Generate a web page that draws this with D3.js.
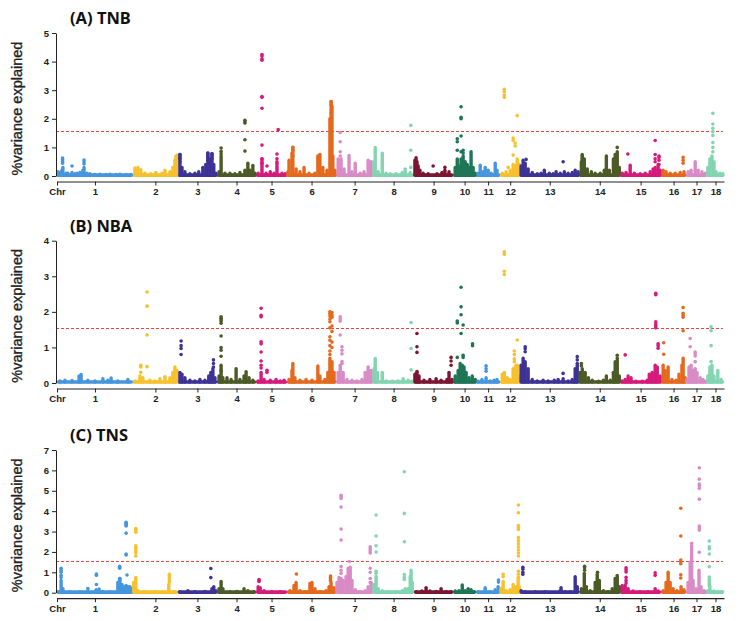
<!DOCTYPE html>
<html><head><meta charset="utf-8">
<script src="https://cdn.jsdelivr.net/npm/d3@7"></script>
<style>body{margin:0;background:#fff}svg{display:block}</style>
</head><body>
<script>
// ---------- DATA ----------
const chrNames = ['1','2','3','4','5','6','7','8','9','10','11','12','13','14','15','16','17','18'];
const chrLen = [258,153,133,133,105,167,126,139,133,78,82,68,201,139,139,85,71,58]; // Mb
const chrColors = ['#4596dc','#f6c12c','#3d3397','#4b5a26','#d61a7b','#e4691e','#d98bc5','#83d5b1','#7b1632','#1e7656'];
const threshold = 1.56;
const baseVal = 0.03;
const panelTitles = ['(A) TNB','(B) NBA','(C) TNS'];
const panelYMax = [5,4,7];

// columns of dense dots: [chr, position(Mb), top value]
const colsA = [
[1,3,.15],[1,10,.12],[1,17,.2],[1,20,.3],[1,31,.1],[1,37,.1],[1,51,.12],[1,61,.08],[1,68,.1],[1,78,.12],[1,88,.2],[1,92,.3],[1,102,.1],[1,112,.08],[1,129,.05],[1,146,.06],[1,167,.05],[1,180,.06],[1,201,.05],[1,214,.06],[1,235,.05],[1,252,.05],
[2,7,.28],[2,17,.3],[2,27,.22],[2,41,.1],[2,61,.08],[2,78,.12],[2,99,.1],[2,109,.2],[2,126,.15],[2,136,.3],[2,143,.55],[2,150,.65],
[3,7,.75],[3,14,.3],[3,24,.15],[3,41,.08],[3,58,.1],[3,71,.15],[3,85,.3],[3,95,.4],[3,102,.8],[3,109,.6],[3,116,.78],[3,122,.4],[3,129,.1],
[4,7,.15],[4,14,.7],[4,27,.1],[4,44,.1],[4,61,.08],[4,78,.12],[4,95,.2],[4,105,.45],[4,112,.2],[4,122,.37],[4,129,.1],
[5,7,.1],[5,20,.6],[5,34,.1],[5,48,.15],[5,61,.1],[5,71,.45],[5,88,.1],[5,99,.08],
[6,3,.15],[6,7,.55],[6,17,.8],[6,20,1.0],[6,31,.25],[6,44,.15],[6,58,.3],[6,75,.1],[6,95,.1],[6,105,.7],[6,112,.75],[6,122,.3],[6,136,.2],[6,146,2.0],[6,150,2.6],[6,153,2.45],[6,156,.7],[6,163,.2],
[7,7,.6],[7,17,.6],[7,27,.25],[7,44,.72],[7,54,.15],[7,65,.45],[7,82,.1],[7,95,.15],[7,109,.55],[7,119,.5],
[8,3,.5],[8,7,1.0],[8,17,.15],[8,31,.8],[8,44,.1],[8,58,.08],[8,78,.08],[8,99,.12],[8,109,.25],[8,126,.12],
[9,3,.55],[9,7,.64],[9,10,.5],[9,14,.35],[9,20,.2],[9,31,.1],[9,48,.08],[9,78,.08],[9,95,.12],[9,105,.2],[9,119,.15],
[10,7,.3],[10,14,.6],[10,20,.35],[10,27,.6],[10,34,.7],[10,41,.5],[10,48,.4],[10,54,.3],[10,61,.85],[10,68,.3],[10,75,.1],
[11,7,.1],[11,14,.38],[11,24,.15],[11,31,.3],[11,41,.2],[11,51,.1],[11,65,.45],[11,71,.2],
[12,7,.1],[12,20,.15],[12,34,.2],[12,44,.4],[12,51,.35],[12,58,.6],[12,65,.4],
[13,3,.35],[13,10,.55],[13,17,.45],[13,27,.25],[13,41,.12],[13,58,.08],[13,71,.1],[13,82,.2],[13,99,.1],[13,112,.08],[13,122,.15],[13,136,.1],[13,150,.15],[13,163,.1],[13,177,.12],[13,187,.2],[13,197,.15],
[14,7,.5],[14,10,.75],[14,17,.6],[14,27,.25],[14,41,.15],[14,54,.1],[14,71,.1],[14,85,.2],[14,92,.7],[14,102,.2],[14,116,.6],[14,122,.75],[14,129,.85],[14,136,.3],
[15,7,.1],[15,20,.12],[15,34,.38],[15,48,.1],[15,68,.08],[15,85,.1],[15,102,.15],[15,112,.25],[15,119,.3],[15,129,.4],[15,136,.2],
[16,7,.2],[16,17,.15],[16,31,.1],[16,48,.1],[16,65,.12],[16,78,.15],
[17,7,.15],[17,17,.2],[17,31,.5],[17,41,.2],[17,54,.15],[17,65,.1],
[18,3,.3],[18,10,.6],[18,17,.7],[18,24,.5],[18,31,.15],[18,44,.1],[18,54,.08]
];
// discrete dots: [chr, position(Mb), [values]]
const ptsA = [
[1,19,[.45,.52,.58,.63]],[1,51,[.35]],[1,92,[.42,.5,.56]],
[2,146,[.6,.68]],[2,150,[.5,.72]],
[3,7,[.5,.6,.68,.75]],[3,102,[.55,.65,.72,.8]],[3,116,[.6,.7,.78]],
[4,14,[.78,.86,.98]],[4,95,[.87,1.27,1.85,1.9,1.95]],
[5,20,[.45,.6,1.08,2.37,2.75,2.78,4.05,4.1,4.2,4.25]],[5,37,[.35]],[5,71,[.5,.6,.77]],[5,75,[1.62]],
[6,20,[.7,.9,1.0]],[6,150,[1.45,1.7,1.95,2.2,2.5,2.6]],
[7,14,[.7,.85,1.2,1.52]],
[8,128,[.3,.9,1.77]],
[9,65,[.35]],[9,105,[.3]],
[10,14,[.9,1.2,1.3]],[10,27,[.85,1.4,2.0,2.05,2.42]],[10,34,[.8,.9]],
[12,14,[2.75,2.83,2.95,3.03]],[12,27,[.3]],[12,44,[.73,1.25,1.33]],[12,51,[1.05,1.15]],[12,58,[2.11]],
[13,20,[.58]],[13,146,[.5]],
[14,10,[.6,.7]],[14,129,[1.0]],
[15,26,[.77]],[15,119,[.5,.6,.75,1.24]],[15,132,[.4,.55,.65,.7]],
[16,75,[.45,.55,.65]],
[18,20,[.85,1.0,1.17,1.42,1.55,1.67,1.82,2.19]]
];

const colsB = [
[1,10,.06],[1,27,.08],[1,51,.07],[1,75,.2],[1,82,.24],[1,105,.08],[1,129,.06],[1,156,.12],[1,173,.08],[1,184,.14],[1,207,.06],[1,241,.1],
[2,7,.06],[2,24,.2],[2,34,.15],[2,58,.08],[2,75,.06],[2,92,.12],[2,109,.18],[2,126,.15],[2,136,.3],[2,143,.45],[2,150,.35],
[3,7,.3],[3,14,.25],[3,24,.15],[3,41,.08],[3,58,.06],[3,75,.1],[3,92,.08],[3,105,.2],[3,112,.3],[3,119,.4],[3,126,.15],
[4,7,.2],[4,14,.5],[4,20,.15],[4,34,.15],[4,48,.1],[4,65,.4],[4,78,.1],[4,92,.2],[4,99,.32],[4,109,.15],[4,122,.08],
[5,7,.06],[5,17,.3],[5,27,.1],[5,48,.08],[5,68,.1],[5,82,.06],[5,95,.08],
[6,7,.1],[6,17,.35],[6,20,.55],[6,27,.15],[6,44,.08],[6,65,.1],[6,85,.08],[6,105,.48],[6,112,.2],[6,129,.1],[6,139,.3],[6,146,.7],[6,153,.6],[6,160,.3],
[7,7,.3],[7,14,.5],[7,24,.3],[7,37,.1],[7,54,.08],[7,71,.06],[7,88,.1],[7,99,.3],[7,109,.45],[7,119,.35],
[8,3,.4],[8,7,.69],[8,14,.3],[8,31,.3],[8,44,.06],[8,65,.05],[8,85,.06],[8,102,.12],[8,119,.08],[8,133,.05],
[9,3,.25],[9,10,.3],[9,17,.2],[9,34,.08],[9,54,.1],[9,75,.12],[9,92,.08],[9,112,.1],[9,119,.3],[9,129,.1],
[10,7,.2],[10,17,.35],[10,24,.55],[10,31,.5],[10,37,.45],[10,44,.3],[10,54,.15],[10,65,.2],[10,75,.1],
[11,7,.05],[11,20,.1],[11,34,.15],[11,48,.06],[11,61,.08],[11,71,.1],
[12,7,.25],[12,14,.3],[12,24,.15],[12,34,.1],[12,44,.4],[12,51,.45],[12,58,.5],[12,65,.2],
[13,3,.5],[13,10,.7],[13,17,.6],[13,27,.4],[13,41,.1],[13,58,.06],[13,78,.08],[13,95,.06],[13,116,.08],[13,129,.1],[13,146,.12],[13,163,.06],[13,177,.1],[13,187,.4],[13,194,.5],
[14,3,.3],[14,10,.4],[14,20,.3],[14,31,.15],[14,44,.08],[14,65,.05],[14,82,.08],[14,92,.2],[14,105,.08],[14,116,.3],[14,122,.6],[14,129,.65],[14,136,.2],
[15,7,.06],[15,17,.1],[15,27,.2],[15,37,.15],[15,54,.05],[15,75,.05],[15,92,.08],[15,99,.25],[15,109,.3],[15,119,.5],[15,126,.45],[15,136,.2],
[16,7,.5],[16,14,.35],[16,24,.45],[16,37,.1],[16,51,.08],[16,61,.25],[16,71,.5],[16,75,.7],[16,82,.15],
[17,3,.1],[17,10,.45],[17,17,.5],[17,24,.35],[17,31,.4],[17,37,.3],[17,48,.15],[17,58,.1],[17,68,.05],
[18,3,.2],[18,10,.45],[18,17,.5],[18,24,.2],[18,37,.35],[18,48,.1]
];
const ptsB = [
[2,27,[.3,.45,.5]],[2,48,[.46,1.35,2.16,2.56]],
[3,11,[.8,.97,1.05,1.18]],[3,121,[.45,.55,.65]],
[4,14,[.35,.75,.92,1.0,1.32,1.68,1.74,1.78,1.82,1.86]],
[5,17,[.42,.5,.62,.87,1.1,1.16,1.86,1.9,2.1]],[5,37,[.3,.36]],
[6,146,[.8,.9,1.05,1.2,1.3,1.55,1.72,1.8,1.88,1.95,2.0]],[6,153,[1.0,1.15,1.45,1.6,1.85,1.9,1.98]],
[7,14,[1.35,1.74,1.8,1.86]],[7,20,[.55,.6,.82,.92,1.02]],
[8,129,[.37,.97,1.7]],
[9,10,[.32,.86,1.02,1.39]],[9,126,[.5,.62,.72]],
[10,14,[.72,1.69,1.74]],[10,27,[1.39,1.92,2.14,2.69]],[10,34,[.72,.78,1.63]],[10,66,[1.05,1.1]],
[11,34,[.33,.4,.48]],
[12,14,[3.05,3.14,3.62,3.69]],[12,48,[.6,.68,.8,.9]],[12,54,[.5]],[12,58,[1.21]],
[13,17,[.88,.96,1.02]],[13,146,[.27]],[13,194,[.55,.65,.74]],
[14,7,[.48,.55]],[14,129,[.7,.78]],
[15,17,[.79]],[15,121,[1.55,1.6,1.66,1.72,2.48,2.52]],[15,129,[.98,1.05,1.1]],
[16,9,[.81,1.13]],[16,75,[1.47,1.85,1.9,1.96,2.12]],
[17,14,[1.02,1.25]],[17,31,[.6,.76,.82,.87]],
[18,14,[.6,1.05,1.47,1.58]]
];

const colsC = [
[1,3,.05],[1,14,.6],[1,20,.2],[1,44,.05],[1,78,.05],[1,105,.1],[1,133,.15],[1,143,.18],[1,156,.06],[1,180,.05],[1,207,.5],[1,214,.7],[1,221,.4],[1,228,.3],[1,235,.35],[1,241,.3],[1,248,.3],[1,255,.2],
[2,3,.5],[2,10,.75],[2,17,.1],[2,41,.05],[2,75,.05],[2,102,.05],[2,122,.4],[2,139,.05],
[3,7,.05],[3,34,.1],[3,58,.05],[3,92,.06],[3,116,.2],[3,122,.3],[3,129,.1],
[4,7,.2],[4,14,.55],[4,20,.2],[4,44,.05],[4,68,.06],[4,92,.2],[4,105,.1],[4,126,.05],
[5,7,.3],[5,14,.25],[5,27,.1],[5,54,.05],[5,82,.05],
[6,10,.1],[6,24,.35],[6,31,.5],[6,44,.1],[6,61,.05],[6,78,.45],[6,85,.5],[6,95,.2],[6,112,.05],[6,133,.1],[6,143,.3],[6,150,.5],[6,160,.25],
[7,3,.5],[7,10,.75],[7,17,.7],[7,24,.6],[7,34,.8],[7,41,1.2],[7,48,1.25],[7,54,.6],[7,65,.15],[7,82,.05],[7,99,.1],[7,109,.3],[7,119,.5],
[8,3,.4],[8,10,.8],[8,17,.2],[8,31,.1],[8,51,.05],[8,75,.05],[8,99,.1],[8,109,.2],[8,119,.2],[8,126,.8],[8,129,1.1],[8,133,.5],
[9,7,.05],[9,27,.08],[9,41,.25],[9,54,.08],[9,75,.06],[9,92,.2],[9,109,.05],[9,126,.05],
[10,7,.08],[10,20,.1],[10,31,.38],[10,41,.1],[10,51,.2],[10,61,.15],[10,71,.05],
[11,7,.05],[11,31,.25],[11,48,.05],[11,65,.15],[11,75,.3],
[12,3,.2],[12,10,.55],[12,20,.1],[12,34,.15],[12,44,.4],[12,54,.3],[12,61,.7],[12,65,.3],
[13,3,.1],[13,17,.05],[13,51,.05],[13,85,.05],[13,136,.1],[13,139,.25],[13,153,.05],[13,170,.05],[13,187,.78],[13,194,.3],
[14,7,.2],[14,17,.95],[14,24,.3],[14,37,.1],[14,54,.5],[14,61,.9],[14,68,.6],[14,82,.1],[14,99,.05],[14,112,.2],[14,122,.7],[14,129,.85],[14,136,.3],
[15,7,.35],[15,17,.35],[15,27,.2],[15,44,.08],[15,68,.05],[15,95,.05],[15,119,.2],[15,129,.08],
[16,7,.1],[16,17,.5],[16,24,1.0],[16,31,.5],[16,41,.2],[16,54,.1],[16,68,.3],[16,78,.15],
[17,7,.5],[17,14,1.5],[17,19,1.8],[17,24,.6],[17,34,.2],[17,44,1.1],[17,51,.3],[17,61,.1],[17,68,.05],
[18,3,.1],[18,10,.3],[18,24,.08],[18,37,.05],[18,51,.05]
];
const ptsC = [
[1,14,[.75,.85,1.0,1.1,1.2]],[1,105,[.2]],[1,134,[.4,.85,.92]],[1,213,[.6,.7,1.2,1.25,1.3]],[1,235,[1.85,1.9,2.92,3.27,3.32,3.36,3.4,3.45]],[1,238,[.87]],
[2,10,[1.8,1.95,2.05,2.15,2.22,2.3,2.97,3.05,3.1,3.15]],[2,124,[.52,.62,.72,.82,.9]],
[3,112,[.74,1.19]],
[5,10,[.55,.6,.65]],
[6,32,[.92]],[6,148,[.6,.68,.75,.82]],
[7,17,[.95,1.1,1.28,2.58,3.12,4.2,4.62,4.7,4.78]],[7,45,[1.53]],[7,116,[.5,.7,1.0,1.2,1.95,2.05,2.15,2.25]],
[8,10,[.95,1.05,2.0,2.3,2.78,3.81]],[8,106,[.65,.75,.89,2.5,3.89,5.93]],
[11,76,[.52,.62]],
[12,10,[.78,.9]],[12,62,[.75,.9,1.05,1.8,1.95,2.1,2.25,2.4,2.55,2.7,3.1,3.2,3.3,3.92,4.3]],
[13,9,[.9,1.0,1.15,1.25]],
[14,18,[1.1,1.22,1.3]],[14,62,[1.0]],
[15,20,[.47,.6,.75,1.02,1.12,1.22]],[15,119,[.85,.98]],
[16,67,[.72,.88,1.42,1.5,1.6,2.78,4.14]],
[17,19,[1.9,2.0,2.1,2.2,2.3,2.42]],[17,45,[1.98,3.07,3.17,3.27,4.59,5.12,5.25,5.33,5.57,6.13]],
[18,8,[.36,.45,.55,.65,.77,1.27,1.9,2.15,2.25,2.53]]
];

// ---------- DRAWING ----------
const W = 740, H = 621;
const svg = d3.select('body').append('svg').attr('width', W).attr('height', H);
const offsets = [0, ...d3.cumsum(chrLen)];
const total = offsets[chrLen.length];
const x = d3.scaleLinear().domain([0, total]).range([57, 724]);
const gx = (c, p) => x(offsets[c - 1] + p);
const col = c => chrColors[(c - 1) % chrColors.length];

const layout = [
  {top: 33, bottom: 176, titleY: 18},
  {top: 240.7, bottom: 383, titleY: 226},
  {top: 450, bottom: 592.7, titleY: 435}
];
const colsAll = [colsA, colsB, colsC];
const ptsAll = [ptsA, ptsB, ptsC];
const font = "'Liberation Sans', Arial, sans-serif";

layout.forEach((L, i) => {
  const y = d3.scaleLinear().domain([0, panelYMax[i]]).range([L.bottom, L.top]);
  const g = svg.append('g');
  const axisY = L.bottom + 5.5;

  // title
  g.append('text').attr('x', 70).attr('y', L.titleY).attr('dy', '0.35em')
    .attr('font-family', "'Noto Sans', sans-serif").attr('font-weight', 'bold')
    .attr('font-size', 16.5).attr('fill', '#111').text(panelTitles[i]);

  // y label
  g.append('text').attr('transform', `translate(17,${(L.top + L.bottom) / 2 + 4}) rotate(-90)`)
    .attr('text-anchor', 'middle').attr('dy', '0.35em')
    .attr('font-family', font).attr('font-size', 14.5).attr('fill', '#222')
    .attr('stroke', '#222').attr('stroke-width', 0.35)
    .text('%variance explained');

  // threshold line
  const ty = Math.round(y(threshold)) + 0.5;
  g.append('line').attr('x1', 56).attr('x2', 723)
    .attr('y1', ty).attr('y2', ty)
    .attr('stroke', '#e0483f').attr('stroke-width', 1).attr('stroke-dasharray', '3,2');

  // baseline bands per chromosome
  chrLen.forEach((len, k) => {
    g.append('line').attr('x1', gx(k + 1, 0) + 1.5).attr('x2', gx(k + 1, len) - 1.5)
      .attr('y1', y(baseVal)).attr('y2', y(baseVal))
      .attr('stroke', col(k + 1)).attr('stroke-width', 3.6).attr('stroke-linecap', 'round');
  });

  // dense columns
  g.selectAll('line.col').data(colsAll[i]).join('line').attr('class', 'col')
    .attr('x1', d => gx(d[0], d[1])).attr('x2', d => gx(d[0], d[1]))
    .attr('y1', y(baseVal)).attr('y2', d => y(d[2]))
    .attr('stroke', d => col(d[0])).attr('stroke-width', 3.4).attr('stroke-linecap', 'round');

  // dots
  const flat = ptsAll[i].flatMap(d => d[2].map(v => [d[0], d[1], v]));
  g.selectAll('circle').data(flat).join('circle')
    .attr('cx', d => gx(d[0], d[1])).attr('cy', d => y(d[2])).attr('r', 1.8)
    .attr('fill', d => col(d[0]));

  // y axis
  const ya = g.append('g').attr('transform', 'translate(56,0)')
    .call(d3.axisLeft(y).ticks(panelYMax[i]).tickSize(4).tickSizeOuter(0).tickPadding(3));
  ya.select('.domain').attr('stroke', '#222');
  ya.selectAll('line').attr('stroke', '#222');
  ya.selectAll('text').attr('font-family', font).attr('font-weight', 'bold').attr('font-size', 9.5).attr('fill', '#222');

  // x axis
  const centers = chrLen.map((len, k) => offsets[k] + len / 2);
  const xa = g.append('g').attr('transform', `translate(0,${axisY})`)
    .call(d3.axisBottom(x).tickValues([0, ...centers]).tickSize(4).tickSizeOuter(0).tickPadding(3)
      .tickFormat((d, j) => j === 0 ? 'Chr' : chrNames[j - 1]));
  xa.select('.domain').attr('stroke', '#222').attr('stroke-width', 1.2);
  xa.selectAll('line').attr('stroke', '#222');
  xa.selectAll('text').attr('font-family', font).attr('font-weight', 'bold').attr('font-size', 9.5).attr('fill', '#222');
});
</script>
</body></html>
